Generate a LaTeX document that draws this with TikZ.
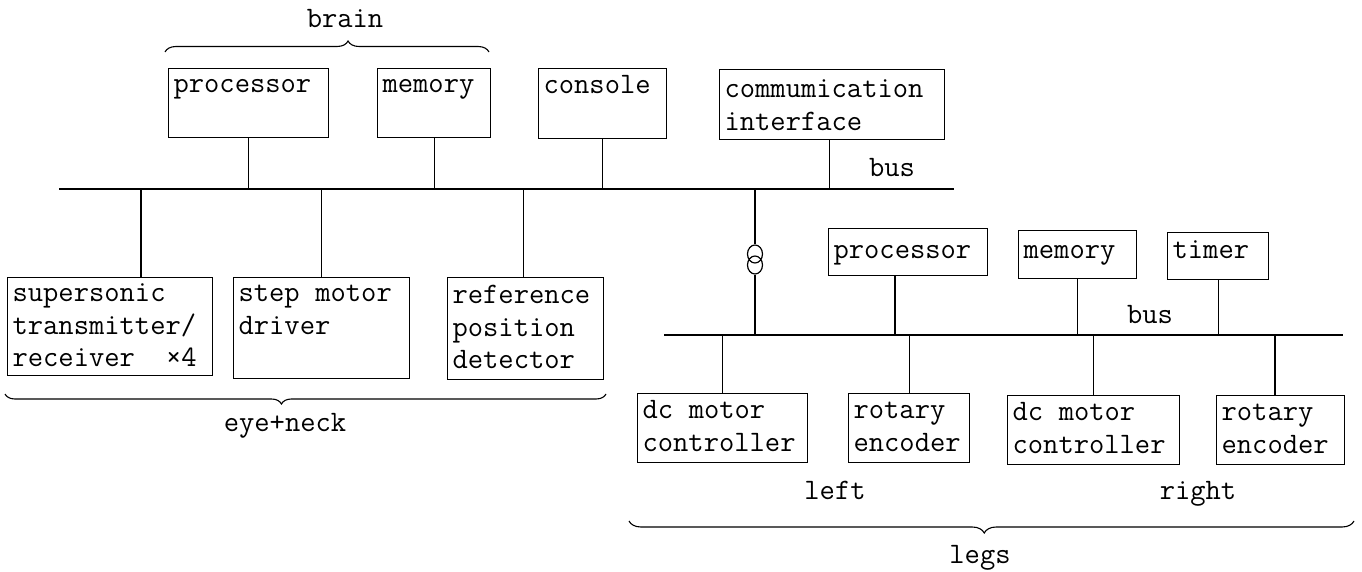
\documentclass[tikz,border=0pt]{standalone}
\usepackage{fontspec}
\usetikzlibrary{shapes.geometric,decorations.pathreplacing}
\newcommand\wsp{\hspace*{0.525em}}
\begin{document}
\begin{tikzpicture}[x=1pt,y=-1pt,
  font=\ttfamily\fontsize{29.7}{32.5}\selectfont,
  blk/.style={draw, line width=1.2pt, anchor=north west, inner xsep=5pt, inner ysep=0pt, align=left},
  wire/.style={line width=1.2pt},
  busline/.style={line width=1.5pt},
  lbl/.style={anchor=base, inner sep=0pt},
  brc/.style={decorate, line width=1.1pt},
  ring/.style={draw, line width=1.2pt, ellipse, minimum width=15pt, minimum height=18pt, inner sep=0pt}]
\useasboundingbox (0,0) rectangle (1362,572);

% top row
\node[blk, text width=150pt, text height=24pt, text depth=45pt] (procA) at (168,68) {processor};
\node[blk, text width=103pt, text height=24pt, text depth=45pt] (memA) at (377,68) {memory};
\node[blk, text width=118pt, text height=25pt, text depth=45pt] (cons) at (538,68) {console};
\node[blk, text width=215pt, text height=28pt, text depth=42pt] (comm) at (719,69) {commumication\\interface};

% eye+neck row
\node[blk, text width=195pt, text height=24pt, text depth=74pt] (sup) at (7,277) {supersonic\\transmitter/\\receiver\wsp\wsp×4};
\node[blk, text width=166pt, text height=24pt, text depth=77pt] (step) at (233,277) {step\wsp motor\\driver};
\node[blk, text width=146pt, text height=26pt, text depth=76pt] (ref) at (447,277) {reference\\position\\detector};

% legs upper row
\node[blk, text width=149pt, text height=30pt, text depth=17pt] (procB) at (828,228) {processor};
\node[blk, text width=108pt, text height=28pt, text depth=20pt] (memB) at (1018,230) {memory};
\node[blk, text width=91pt, text height=26pt, text depth=21pt] (timer) at (1167,232) {timer};

% legs lower row
\node[blk, text width=160pt, text height=25pt, text depth=44pt] (dcL) at (637,393) {dc\wsp motor\\controller};
\node[blk, text width=111pt, text height=25pt, text depth=44pt] (rotL) at (848,393) {rotary\\encoder};
\node[blk, text width=162pt, text height=25pt, text depth=44pt] (dcR) at (1007,395) {dc\wsp motor\\controller};
\node[blk, text width=118pt, text height=25pt, text depth=44pt] (rotR) at (1216,395) {rotary\\encoder};

% buses
\coordinate (busAL) at (59,189);
\coordinate (busAR) at (954,189);
\coordinate (busBL) at (664,335);
\coordinate (busBR) at (1343,335);
\draw[busline] (busAL) -- (busAR);
\draw[busline] (busBL) -- (busBR);

% connectors to upper bus
\draw[wire] (procA.south) -- (procA.south |- busAL);
\draw[wire] (memA.south) -- (memA.south |- busAL);
\draw[wire] (cons.south) -- (cons.south |- busAL);
\coordinate (commT) at ([xshift=-3pt]comm.south);
\draw[wire] (commT) -- (commT |- busAL);
\coordinate (supT) at ([xshift=134pt]sup.north west);
\draw[wire] (supT) -- (supT |- busAL);
\draw[wire] (step.north) -- (step.north |- busAL);
\coordinate (refT) at ([xshift=-2pt]ref.north);
\draw[wire] (refT) -- (refT |- busAL);

% link between buses with coil
\node[ring] (c1) at (755,254) {};
\node[ring] (c2) at (755,265) {};
\draw[wire] (c1 |- busAL) -- (c1.north);
\draw[wire] (c2.south) -- (c2 |- busBL);

% connectors to lower bus
\coordinate (pbB) at ([xshift=67pt]procB.south west);
\draw[wire] (pbB) -- (pbB |- busBL);
\draw[wire] (memB.south) -- (memB.south |- busBL);
\draw[wire] (timer.south) -- (timer.south |- busBL);
\draw[wire] (dcL.north) -- (dcL.north |- busBL);
\draw[wire] (rotL.north) -- (rotL.north |- busBL);
\draw[wire] (dcR.north) -- (dcR.north |- busBL);
\coordinate (rrT) at ([xshift=59pt]rotR.north west);
\draw[wire] (rrT) -- (rrT |- busBL);

% braces
\draw[brc, decoration={brace, amplitude=11pt, aspect=0.565}] (165,52) -- (489,52);
\draw[brc, decoration={brace, mirror, amplitude=10pt, aspect=0.46}] (5,394) -- (606,394);
\draw[brc, decoration={brace, mirror, amplitude=12pt, aspect=0.49}] (629,521) -- (1354,521);

% labels
\node[lbl] (brain) at (345,28) {brain};
\node[lbl] (eyeneck) at (285,431) {eye+neck};
\node[lbl] (legs) at (980,563) {legs};
\node[lbl] (leftlbl) at (835,499) {left};
\node[lbl] (rightlbl) at (1198,499) {right};
\node[lbl] (busa) at (892,177) {bus};
\node[lbl] (busb) at (1150,323) {bus};
\end{tikzpicture}
\end{document}
